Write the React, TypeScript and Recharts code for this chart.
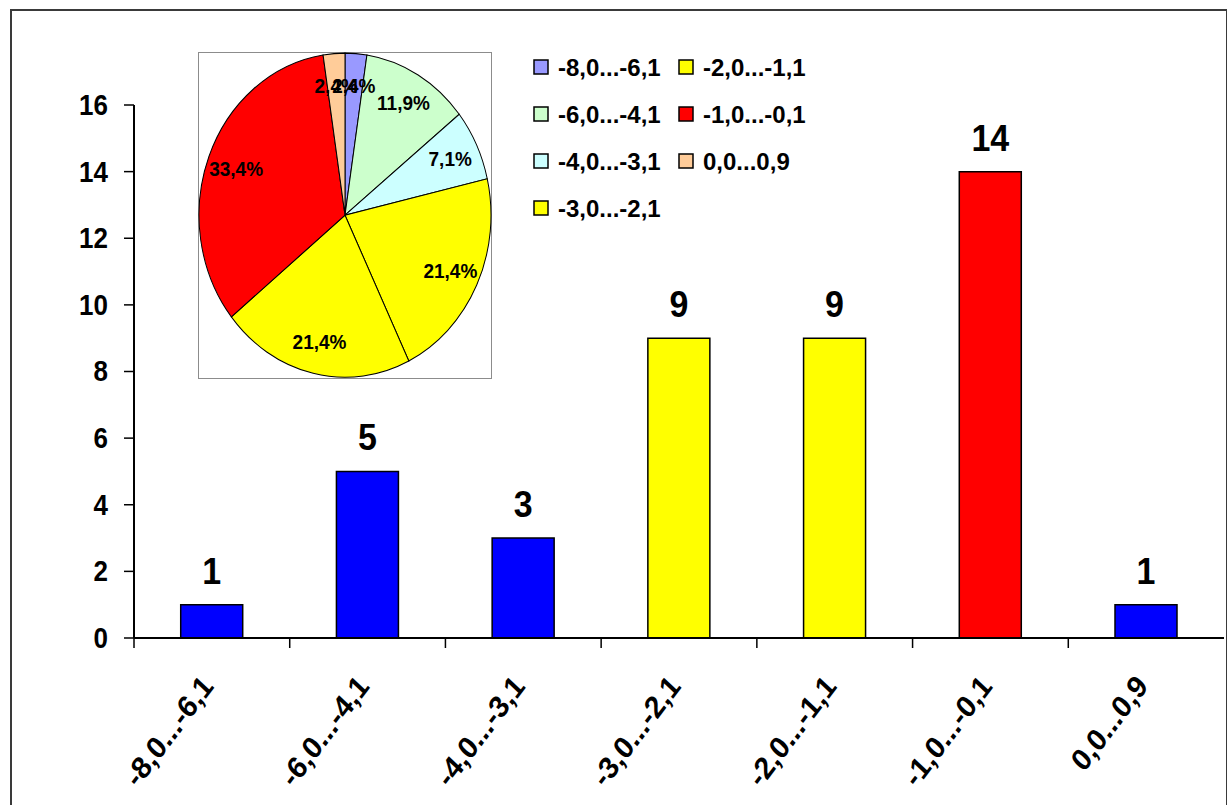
import React from "react";
import { BarChart, Bar, XAxis, YAxis, Cell, LabelList, PieChart, Pie } from "recharts";

const categories = [
  "-8,0...-6,1",
  "-6,0...-4,1",
  "-4,0...-3,1",
  "-3,0...-2,1",
  "-2,0...-1,1",
  "-1,0...-0,1",
  "0,0...0,9",
];
const counts = [1, 5, 3, 9, 9, 14, 1];
const barColors = ["#0000FF", "#0000FF", "#0000FF", "#FFFF00", "#FFFF00", "#FF0000", "#0000FF"];
const pieShares = [2.4, 11.9, 7.1, 21.4, 21.4, 33.4, 2.4];
const pieColors = ["#9999FF", "#CCFFCC", "#CCFFFF", "#FFFF00", "#FFFF00", "#FF0000", "#FFCC99"];
const yTicks = [0, 2, 4, 6, 8, 10, 12, 14, 16];

const FONT = '"Liberation Sans", Arial, sans-serif';
const STRETCH = 1.11;

const barRows = categories.map((name, i) => ({ name, count: counts[i] }));
const pieRows = categories.map((name, i) => ({ name, share: pieShares[i] }));

function ValueTick({ x, y, payload }: any) {
  return (
    <text
      transform={`translate(${x - 14},${y}) scale(1,${STRETCH})`}
      textAnchor="end"
      dominantBaseline="central"
      fontFamily={FONT}
      fontWeight="bold"
      fontSize={26}
      fill="#000"
    >
      {payload.value}
    </text>
  );
}

function CategoryTick({ x, y, payload }: any) {
  const axisY = y - 8;
  const half = payload.offset ?? 78;
  return (
    <g>
      <line x1={x - half} y1={axisY} x2={x - half} y2={axisY + 10} stroke="#000" strokeWidth={1.5} />
      <text
        transform={`translate(${x + 3},${axisY + 49}) scale(1,${STRETCH}) rotate(-50)`}
        textAnchor="end"
        fontFamily={FONT}
        fontWeight="bold"
        fontSize={28}
        fill="#000"
      >
        {payload.value}
      </text>
    </g>
  );
}

function BarValue({ x, y, width, value }: any) {
  return (
    <text
      transform={`translate(${x + width / 2},${y - 21}) scale(1,${STRETCH})`}
      textAnchor="middle"
      fontFamily={FONT}
      fontWeight="bold"
      fontSize={34}
      fill="#000"
    >
      {value}
    </text>
  );
}

const RAD = Math.PI / 180;
function PieValue({ cx, cy, midAngle, outerRadius, value }: any) {
  const r = outerRadius * 0.8;
  const px = cx + r * Math.cos(-midAngle * RAD);
  const py = cy + r * Math.sin(-midAngle * RAD);
  return (
    <text
      x={px}
      y={py}
      textAnchor="middle"
      dominantBaseline="central"
      fontFamily={FONT}
      fontWeight="bold"
      fontSize={19}
      fill="#000"
    >
      {value.toFixed(1).replace(".", ",")}%
    </text>
  );
}

// legend is laid out column by column: four rows, then the rest
function ShareLegend() {
  return (
    <svg width={310} height={190} style={{ position: "absolute", left: 520, top: 40 }}>
      {categories.map((name, i) => {
        const col = Math.floor(i / 4);
        const row = i % 4;
        const sx = 14 + col * 145;
        const cy = 27 + row * 47;
        return (
          <g key={name}>
            <rect x={sx} y={cy - 7} width={14} height={14} fill={pieColors[i]} stroke="#000" strokeWidth={1.5} />
            <text
              x={sx + 24}
              y={cy}
              dominantBaseline="central"
              fontFamily={FONT}
              fontWeight="bold"
              fontSize={24}
              fill="#000"
            >
              {name}
            </text>
          </g>
        );
      })}
    </svg>
  );
}

export default function App() {
  return (
    <div
      style={{
        position: "absolute",
        left: 0,
        top: 0,
        width: 1227,
        height: 805,
        overflow: "hidden",
        background: "#fff",
      }}
    >
      <div
        style={{
          position: "absolute",
          left: 10,
          top: 9,
          width: 1214,
          height: 830,
          border: "2px solid #3a3a3a",
        }}
      />
      <div style={{ position: "absolute", left: 0, top: 0 }}>
        <BarChart
          width={1227}
          height={805}
          data={barRows}
          margin={{ top: 105, right: 3, left: 0, bottom: 0 }}
          barCategoryGap="30%"
        >
          <XAxis
            dataKey="name"
            height={167}
            interval={0}
            tickSize={6}
            tickLine={false}
            axisLine={{ stroke: "#000", strokeWidth: 2 }}
            tick={<CategoryTick />}
          />
          <YAxis
            width={134}
            domain={[0, 16]}
            ticks={yTicks}
            interval={0}
            tickSize={10}
            tickLine={{ stroke: "#000", strokeWidth: 1.5 }}
            axisLine={{ stroke: "#000", strokeWidth: 2 }}
            tick={<ValueTick />}
          />
          <Bar dataKey="count" stroke="#000" strokeWidth={1.5} isAnimationActive={false}>
            {barRows.map((row, i) => (
              <Cell key={row.name} fill={barColors[i]} />
            ))}
            <LabelList dataKey="count" content={<BarValue />} />
          </Bar>
        </BarChart>
      </div>
      <div
        style={{
          position: "absolute",
          left: 198,
          top: 52,
          width: 294,
          height: 327,
          boxSizing: "border-box",
          border: "1.5px solid #8c8c8c",
        }}
      />
      <div
        style={{
          position: "absolute",
          left: 198,
          top: 52,
          transform: `scale(1,${STRETCH})`,
          transformOrigin: "0 0",
        }}
      >
        <PieChart width={294} height={294} margin={{ top: 0, right: 0, bottom: 0, left: 0 }}>
          <Pie
            data={pieRows}
            dataKey="share"
            nameKey="name"
            cx={147}
            cy={147}
            outerRadius={146}
            startAngle={90}
            endAngle={-270}
            stroke="#000"
            strokeWidth={1}
            label={<PieValue />}
            labelLine={false}
            isAnimationActive={false}
          >
            {pieRows.map((row, i) => (
              <Cell key={row.name} fill={pieColors[i]} />
            ))}
          </Pie>
        </PieChart>
      </div>
      <ShareLegend />
    </div>
  );
}
